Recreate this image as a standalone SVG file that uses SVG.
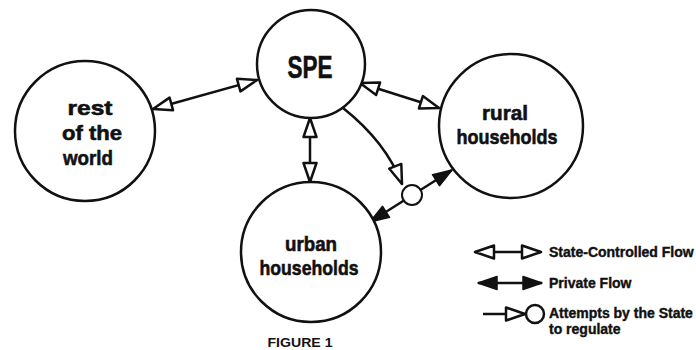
<svg xmlns="http://www.w3.org/2000/svg" width="696" height="350" viewBox="0 0 696 350">
  <style>
    .node circle { fill: #fff; stroke: #111; stroke-width: 2.5; }
    .lbl { font-family: "Liberation Sans", Arial, sans-serif; font-weight: bold; font-size: 21px; fill: #111; stroke: #111; stroke-width: 0.6; text-anchor: middle; }
    .flow { fill: none; stroke: #111; stroke-width: 2.5; }
    .state { marker-start: url(#hollow); marker-end: url(#hollow); }
    .private { marker-start: url(#solid); marker-end: url(#solid); }
    .key { font-family: "Liberation Sans", Arial, sans-serif; font-weight: bold; font-size: 14px; fill: #111; stroke: #111; stroke-width: 0.4; }
    .caption { font-family: "Liberation Sans", Arial, sans-serif; font-weight: bold; font-size: 13px; fill: #111; text-anchor: middle; }
  </style>
  <defs>
    <!-- hollow triangle: state-controlled flow -->
    <marker id="hollow" viewBox="-22 -10 24 20" refX="0" refY="0" markerWidth="24" markerHeight="20" markerUnits="userSpaceOnUse" orient="auto-start-reverse" overflow="visible">
      <path d="M0,0 L-19,-6.5 L-19,6.5 Z" fill="#fff" stroke="#111" stroke-width="2.5" stroke-linejoin="round"/>
    </marker>
    <!-- solid triangle: private flow -->
    <marker id="solid" viewBox="-22 -10 24 20" refX="0" refY="0" markerWidth="24" markerHeight="20" markerUnits="userSpaceOnUse" orient="auto-start-reverse" overflow="visible">
      <path d="M0,0 L-19,-6.5 L-19,6.5 Z" fill="#111" stroke="#111" stroke-width="1.5" stroke-linejoin="round"/>
    </marker>
    <!-- single hollow triangle at the end of a regulation line -->
    <marker id="hollowEnd" viewBox="-22 -10 24 20" refX="0" refY="0" markerWidth="24" markerHeight="20" markerUnits="userSpaceOnUse" orient="auto" overflow="visible">
      <path d="M0,0 L-19,-6.5 L-19,6.5 Z" fill="#fff" stroke="#111" stroke-width="2.5" stroke-linejoin="round"/>
    </marker>
  </defs>

  <!-- connectors -->
  <g id="connectors">
    <path class="flow state" d="M153,109 L257,80"/>
    <path class="flow state" d="M360,83 L439,108"/>
    <path class="flow state" d="M310,118 L310,182"/>
    <path class="flow" d="M343,108 Q386,142 402,184" marker-end="url(#hollowEnd)"/>
    <path class="flow private" d="M370,222 L452,170"/>
  </g>

  <!-- nodes -->
  <g id="rest-of-the-world" class="node">
    <circle cx="85" cy="131" r="70"/>
    <text class="lbl" x="90" y="115" textLength="45" lengthAdjust="spacingAndGlyphs">rest</text>
    <text class="lbl" x="92" y="140" textLength="60" lengthAdjust="spacingAndGlyphs">of the</text>
    <text class="lbl" x="88" y="165" textLength="50" lengthAdjust="spacingAndGlyphs">world</text>
  </g>

  <g id="spe" class="node">
    <circle cx="311" cy="64" r="54"/>
    <text class="lbl" x="310" y="78" style="font-size:32px" textLength="45" lengthAdjust="spacingAndGlyphs">SPE</text>
  </g>

  <g id="rural-households" class="node">
    <circle cx="511" cy="126" r="72"/>
    <text class="lbl" x="505" y="120" textLength="46" lengthAdjust="spacingAndGlyphs">rural</text>
    <text class="lbl" x="507" y="144" textLength="101" lengthAdjust="spacingAndGlyphs">households</text>
  </g>

  <g id="urban-households" class="node">
    <circle cx="311" cy="252" r="70"/>
    <text class="lbl" x="311" y="251" textLength="52" lengthAdjust="spacingAndGlyphs">urban</text>
    <text class="lbl" x="309" y="275" textLength="99" lengthAdjust="spacingAndGlyphs">households</text>
  </g>

  <g id="regulation-point" class="node">
    <circle cx="412" cy="195" r="10" style="stroke-width:2"/>
  </g>

  <!-- legend -->
  <g id="legend">
    <path class="flow state" d="M475,252 L541,252"/>
    <text class="key" x="549" y="257">State-Controlled Flow</text>
    <path class="flow private" d="M478,283 L542,283"/>
    <text class="key" x="549" y="288">Private Flow</text>
    <path class="flow" d="M483,314 L525,314" marker-end="url(#hollowEnd)"/>
    <circle cx="535" cy="314" r="9" fill="#fff" stroke="#111" stroke-width="2.5"/>
    <text class="key" x="549" y="318">Attempts by the State</text>
    <text class="key" x="549" y="334">to regulate</text>
  </g>

  <text class="caption" x="300" y="347" textLength="65" lengthAdjust="spacingAndGlyphs">FIGURE 1</text>
</svg>
